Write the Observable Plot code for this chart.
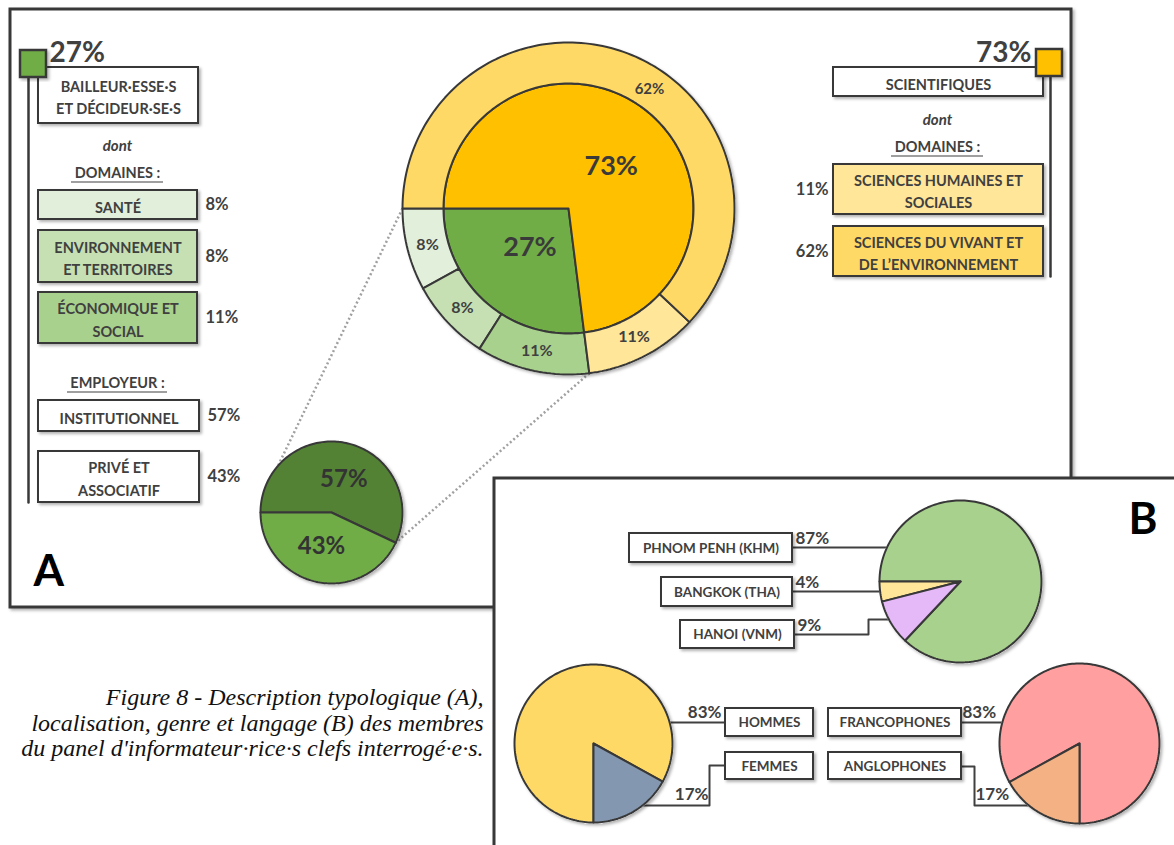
<!DOCTYPE html>
<html><head><meta charset="utf-8">
<script src="https://cdn.jsdelivr.net/npm/d3@7"></script>
<script src="https://cdn.jsdelivr.net/npm/@observablehq/plot@0.6"></script>
<style>html,body{margin:0;padding:0;background:#fff;overflow:hidden}svg{display:block}</style>
</head><body><div id="chart"></div>
<script>
// ---------------- DATA ----------------
const typeLabels = ["SCIENTIFIQUES", "BAILLEUR·ESSE·S\nET DÉCIDEUR·SE·S"];
const typeValues = [73, 27];
const sciDomainLabels = ["SCIENCES HUMAINES ET\nSOCIALES", "SCIENCES DU VIVANT ET\nDE L’ENVIRONNEMENT"];
const sciDomainValues = [11, 62];
const bdDomainLabels = ["SANTÉ", "ENVIRONNEMENT\nET TERRITOIRES", "ÉCONOMIQUE ET\nSOCIAL"];
const bdDomainValues = [8, 8, 11];
const employerLabels = ["INSTITUTIONNEL", "PRIVÉ ET\nASSOCIATIF"];
const employerValues = [57, 43];
const cityLabels = ["PHNOM PENH (KHM)", "BANGKOK (THA)", "HANOI (VNM)"];
const cityValues = [87, 4, 9];
const genderLabels = ["HOMMES", "FEMMES"];
const genderValues = [83, 17];
const languageLabels = ["FRANCOPHONES", "ANGLOPHONES"];
const languageValues = [83, 17];
const captionText = "Figure 8 - Description typologique (A),\nlocalisation, genre et langage (B) des membres\ndu panel d'informateur·rice·s clefs interrogé·e·s.";

// ---------------- STYLE / LAYOUT ----------------
const W = 1174, H = 845;
const INK = "#404040", EDGE = "#383838";
const FONT = "Lato, 'Open Sans', sans-serif";
const SERIF = "'Liberation Serif', 'DejaVu Serif', serif";
const typeColors = ["#FFC000", "#70AD47"];
const sciDomainColors = ["#FFE699", "#FFD966"];
const bdDomainColors = ["#E2EFDA", "#C6E0B4", "#A9D18E"];
const employerColors = ["#548235", "#70AD47"];
const cityColors = ["#A9D18E", "#FFE699", "#E5B9F7"];
const genderColors = ["#FFD966", "#8497B0"];
const languageColors = ["#FF9F9F", "#F4B183"];

const DONUT = {cx: 568, cy: 208, r0: 125, r1: 166};
const SMALL = {cx: 331, cy: 512, r: 71};
const CITY = {cx: 960, cy: 581, r: 81};
const GENDER = {cx: 593, cy: 743, r: 79};
const LANG = {cx: 1079, cy: 743, r: 80};

// ---------------- GEOMETRY HELPERS ----------------
const rad = a => a * Math.PI / 180;
function pt(cx, cy, r, a) { return [cx + r * Math.sin(rad(a)), cy - r * Math.cos(rad(a))]; }
function arcPts(cx, cy, r, a0, a1) {
  const n = Math.max(2, Math.ceil(Math.abs(a1 - a0) / 1.5));
  return d3.range(n + 1).map(i => pt(cx, cy, r, a0 + (a1 - a0) * i / n));
}
function stackAngles(values, anchor, dir) {
  let a = anchor;
  return values.map(v => { const s = a; a += dir * v * 3.6; return dir > 0 ? [s, a] : [a, s]; });
}
function slicePoly(cx, cy, r0, r1, a0, a1) {
  return r0 > 0 ? [...arcPts(cx, cy, r1, a0, a1), ...arcPts(cx, cy, r0, a1, a0)]
                : [[cx, cy], ...arcPts(cx, cy, r1, a0, a1)];
}
function sliceMark(poly, fill) {
  return Plot.line(poly, {x: d => d[0], y: d => d[1], fill, stroke: EDGE, strokeWidth: 2, curve: "linear-closed", strokeLinejoin: "round"});
}
const pct = v => `${v}%`;

// angles
const innerAng = stackAngles([typeValues[1], typeValues[0]], 270, -1); // [bd, sci]
const bdAng = stackAngles(bdDomainValues, 270, -1);
const sciAng = stackAngles(sciDomainValues, innerAng[0][0], -1);
const empAng = stackAngles(employerValues, 270, 1);
const cityAngRev = stackAngles([cityValues[1], cityValues[2], cityValues[0]], 270, -1);
const cityAng = [cityAngRev[2], cityAngRev[0], cityAngRev[1]];
const genAngRev = stackAngles([genderValues[1], genderValues[0]], 180, -1);
const genAng = [genAngRev[1], genAngRev[0]];
const langAngRev = stackAngles([languageValues[1], languageValues[0]], 180, 1);
const langAng = [langAngRev[1], langAngRev[0]];

const marks = [];
const shadow = {ariaDescription: "shadow"};

// ---------------- PANEL A ----------------
marks.push(Plot.rect([{x1: 10, x2: 1071, y1: 9, y2: 607}], {x1: "x1", x2: "x2", y1: "y1", y2: "y2", fill: "white", stroke: EDGE, strokeWidth: 3, ...shadow}));

// left legend
const leftBoxes = [
  {x1: 38, x2: 198, y1: 67, y2: 123, fill: "white", label: typeLabels[1]},
  ...bdDomainLabels.map((l, i) => ({x1: 38, x2: 197, y1: [190, 230, 292][i], y2: [219, 282, 343][i], fill: bdDomainColors[i], label: l, value: bdDomainValues[i]})),
  ...employerLabels.map((l, i) => ({x1: 38, x2: 199, y1: [400, 451][i], y2: [431, 502][i], fill: "white", label: l, value: employerValues[i]}))
];
const rightBoxes = [
  {x1: 833, x2: 1043, y1: 67, y2: 96, fill: "white", label: typeLabels[0]},
  ...sciDomainLabels.map((l, i) => ({x1: 833, x2: 1043, y1: [164, 226][i], y2: [214, 276][i], fill: sciDomainColors[i], label: l, value: sciDomainValues[i]}))
];
const vlines = [
  {id: "L", x: 28, y: 77}, {id: "L", x: 28, y: 502},
  {id: "R", x: 1050, y: 76}, {id: "R", x: 1050, y: 276}
];
marks.push(Plot.line(vlines, {x: "x", y: "y", z: "id", stroke: EDGE, strokeWidth: 2.5}));
marks.push(Plot.rect([...leftBoxes, ...rightBoxes], {x1: "x1", x2: "x2", y1: "y1", y2: "y2", fill: "fill", stroke: EDGE, strokeWidth: 2, ...shadow}));
marks.push(Plot.rect([{x1: 20, x2: 46, y1: 50, y2: 77, fill: typeColors[1]}, {x1: 1036, x2: 1062, y1: 49, y2: 76, fill: typeColors[0]}],
  {x1: "x1", x2: "x2", y1: "y1", y2: "y2", fill: "fill", stroke: EDGE, strokeWidth: 2.5, ...shadow}));
marks.push(Plot.text([...leftBoxes, ...rightBoxes], {x: d => (d.x1 + d.x2) / 2, y: d => (d.y1 + d.y2) / 2 + 0.5, text: "label", fill: INK, fontSize: 14.5, fontWeight: 700, fontFamily: FONT, lineHeight: 1.55}));
// percent values next to boxes
marks.push(Plot.text(leftBoxes.filter(d => d.value != null), {x: d => d.x2 + 8, y: d => (d.y1 + d.y2) / 2, text: d => pct(d.value), textAnchor: "start", fill: INK, fontSize: 16.5, fontWeight: 700, fontFamily: FONT}));
marks.push(Plot.text(rightBoxes.filter(d => d.value != null), {x: d => d.x1 - 5, y: d => (d.y1 + d.y2) / 2, text: d => pct(d.value), textAnchor: "end", fill: INK, fontSize: 16.5, fontWeight: 700, fontFamily: FONT}));
// headline percentages
marks.push(Plot.text([{x: 49, y: 53, t: pct(typeValues[1])}], {x: "x", y: "y", text: "t", textAnchor: "start", fill: INK, fontSize: 28, fontWeight: 700, fontFamily: FONT}));
marks.push(Plot.text([{x: 1031, y: 53, t: pct(typeValues[0])}], {x: "x", y: "y", text: "t", textAnchor: "end", fill: INK, fontSize: 28, fontWeight: 700, fontFamily: FONT}));
// "dont" and section titles
marks.push(Plot.text([{x: 117, y: 146}, {x: 937, y: 120}], {x: "x", y: "y", text: () => "dont", fill: INK, fontSize: 15, fontWeight: 700, fontStyle: "italic", fontFamily: FONT}));
const headers = [
  {x: 117, y: 173, t: "DOMAINES :", u1: 71, u2: 163},
  {x: 117, y: 383, t: "EMPLOYEUR :", u1: 67, u2: 167},
  {x: 937, y: 147, t: "DOMAINES :", u1: 891, u2: 983}
];
marks.push(Plot.text(headers, {x: "x", y: "y", text: "t", fill: INK, fontSize: 14.5, fontWeight: 700, fontFamily: FONT}));
marks.push(Plot.ruleY(headers, {y: d => d.y + 8.5, x1: "u1", x2: "u2", stroke: INK, strokeWidth: 1.2}));

// dotted connectors
const conn = [
  {id: 0, p: pt(DONUT.cx, DONUT.cy, DONUT.r1, innerAng[0][1])}, {id: 0, p: pt(SMALL.cx, SMALL.cy, SMALL.r, 311)},
  {id: 1, p: pt(DONUT.cx, DONUT.cy, DONUT.r1, innerAng[0][0])}, {id: 1, p: pt(SMALL.cx, SMALL.cy, SMALL.r, empAng[0][1])}
];
marks.push(Plot.line(conn, {x: d => d.p[0], y: d => d.p[1], z: "id", stroke: "#A0A0A0", strokeWidth: 2.5, strokeDasharray: "2,2.5", strokeLinecap: "butt"}));

// donut
marks.push(Plot.dot([DONUT], {x: "cx", y: "cy", r: DONUT.r1 + 1, fill: "white", ...shadow}));
innerAng.forEach(([a0, a1], i) => marks.push(sliceMark(slicePoly(DONUT.cx, DONUT.cy, 0, DONUT.r0, a0, a1), [typeColors[1], typeColors[0]][i])));
bdAng.forEach(([a0, a1], i) => marks.push(sliceMark(slicePoly(DONUT.cx, DONUT.cy, DONUT.r0, DONUT.r1, a0, a1), bdDomainColors[i])));
sciAng.forEach(([a0, a1], i) => marks.push(sliceMark(slicePoly(DONUT.cx, DONUT.cy, DONUT.r0, DONUT.r1, a0, a1), sciDomainColors[i])));
const rMid = (DONUT.r0 + DONUT.r1) / 2;
const outerLabels = [
  ...bdAng.map(([a0, a1], i) => ({p: pt(DONUT.cx, DONUT.cy, rMid, (a0 + a1) / 2), t: pct(bdDomainValues[i]), s: 16})),
  ...sciAng.map(([a0, a1], i) => ({p: pt(DONUT.cx, DONUT.cy, rMid - 1, (a0 + a1) / 2 + (i === 1 ? 12.5 : 0)), t: pct(sciDomainValues[i]), s: i === 1 ? 15 : 16}))
];
const innerLabels = [
  {p: pt(DONUT.cx, DONUT.cy, 55, (innerAng[0][0] + innerAng[0][1]) / 2 + 3), t: pct(typeValues[1])},
  {p: pt(DONUT.cx, DONUT.cy, 60, (innerAng[1][0] + innerAng[1][1]) / 2 + 4), t: pct(typeValues[0])}
];
marks.push(Plot.text(outerLabels, {x: d => d.p[0], y: d => d.p[1], text: "t", fontSize: d => d.s, fill: INK, fontWeight: 700, fontFamily: FONT}));
marks.push(Plot.text(innerLabels, {x: d => d.p[0], y: d => d.p[1], text: "t", fontSize: 27, fill: "#3a3a3a", fontWeight: 700, fontFamily: FONT}));

// small employer pie
marks.push(Plot.dot([SMALL], {x: "cx", y: "cy", r: SMALL.r + 1, fill: "white", ...shadow}));
empAng.forEach(([a0, a1], i) => marks.push(sliceMark(slicePoly(SMALL.cx, SMALL.cy, 0, SMALL.r, a0, a1), employerColors[i])));
marks.push(Plot.text(empAng.map(([a0, a1], i) => ({p: pt(SMALL.cx, SMALL.cy, 35, (a0 + a1) / 2 + (i === 0 ? 8 : 4)), t: pct(employerValues[i])})),
  {x: d => d.p[0], y: d => d.p[1], text: "t", fontSize: 24, fill: "#333", fontWeight: 700, fontFamily: FONT}));

// panel letter A
marks.push(Plot.text([{x: 33, y: 571, t: "A"}], {x: "x", y: "y", text: "t", textAnchor: "start", fontSize: 44, fontWeight: 700, fill: "#000", fontFamily: FONT}));

// ---------------- PANEL B ----------------
marks.push(Plot.rect([{x1: 494, x2: 1185, y1: 478, y2: 860}], {x1: "x1", x2: "x2", y1: "y1", y2: "y2", fill: "white", stroke: EDGE, strokeWidth: 3, ...shadow}));
marks.push(Plot.text([{x: 1157, y: 519, t: "B"}], {x: "x", y: "y", text: "t", textAnchor: "end", fontSize: 44, fontWeight: 700, fill: "#000", fontFamily: FONT}));

const edgeX = (P, y, side) => P.cx + side * Math.sqrt(P.r * P.r - (y - P.cy) ** 2);

const bBoxes = [
  {x1: 629, x2: 792, y1: 533, y2: 562, label: cityLabels[0]},
  {x1: 661, x2: 792, y1: 577, y2: 606, label: cityLabels[1]},
  {x1: 680, x2: 794, y1: 620, y2: 648, label: cityLabels[2]},
  {x1: 725, x2: 813, y1: 708, y2: 736, label: genderLabels[0]},
  {x1: 725, x2: 813, y1: 752, y2: 779, label: genderLabels[1]},
  {x1: 828, x2: 961, y1: 708, y2: 736, label: languageLabels[0]},
  {x1: 828, x2: 961, y1: 752, y2: 779, label: languageLabels[1]}
];
const leaders = [
  {id: "pp", pts: [[792, 547], [edgeX(CITY, 547, -1), 547]]},
  {id: "bk", pts: [[792, 591], [edgeX(CITY, 591, -1), 591]]},
  {id: "hn", pts: [[794, 634], [868, 634], [868, 619], [edgeX(CITY, 619, -1), 619]]},
  {id: "ho", pts: [[725, 722], [edgeX(GENDER, 722, 1), 722]]},
  {id: "fe", pts: [[725, 765], [709, 765], [709, 805], [edgeX(GENDER, 805, 1) - 2, 805]]},
  {id: "fr", pts: [[961, 722], [edgeX(LANG, 722, -1), 722]]},
  {id: "an", pts: [[961, 766], [974, 766], [974, 805], [edgeX(LANG, 805, -1) + 2, 805]]}
].flatMap(d => d.pts.map(p => ({id: d.id, x: p[0], y: p[1]})));
marks.push(Plot.line(leaders, {x: "x", y: "y", z: "id", stroke: INK, strokeWidth: 2}));

// pies
[[CITY, cityAng, cityColors], [GENDER, genAng, genderColors], [LANG, langAng, languageColors]].forEach(([P, angs, cols]) => {
  marks.push(Plot.dot([P], {x: "cx", y: "cy", r: P.r + 1, fill: "white", ...shadow}));
  angs.forEach(([a0, a1], i) => marks.push(sliceMark(slicePoly(P.cx, P.cy, 0, P.r, a0, a1), cols[i])));
});

marks.push(Plot.rect(bBoxes, {x1: "x1", x2: "x2", y1: "y1", y2: "y2", fill: "white", stroke: EDGE, strokeWidth: 2, ...shadow}));
marks.push(Plot.text(bBoxes, {x: d => (d.x1 + d.x2) / 2, y: d => (d.y1 + d.y2) / 2 + 0.5, text: "label", fill: INK, fontSize: 13.5, fontWeight: 700, fontFamily: FONT}));
const bPctsStart = [
  {x: 795, y: 538, t: pct(cityValues[0])},
  {x: 795, y: 582, t: pct(cityValues[1])},
  {x: 797, y: 625, t: pct(cityValues[2])},
  {x: 962, y: 712, t: pct(languageValues[0])},
  {x: 975, y: 794, t: pct(languageValues[1])}
];
const bPctsEnd = [
  {x: 721, y: 712, t: pct(genderValues[0])},
  {x: 708, y: 794, t: pct(genderValues[1])}
];
marks.push(Plot.text(bPctsStart, {x: "x", y: "y", text: "t", textAnchor: "start", fill: INK, fontSize: 17, fontWeight: 700, fontFamily: FONT}));
marks.push(Plot.text(bPctsEnd, {x: "x", y: "y", text: "t", textAnchor: "end", fill: INK, fontSize: 17, fontWeight: 700, fontFamily: FONT}));

// caption
marks.push(Plot.text([{x: 483, y: 722, t: captionText}], {x: "x", y: "y", text: "t", textAnchor: "end", fill: "#111", fontSize: 24, fontStyle: "italic", fontFamily: SERIF, lineHeight: 1.06}));

const chart = Plot.plot({
  width: W, height: H, margin: 0,
  x: {domain: [0, W], range: [0, W]},
  y: {domain: [0, H], range: [0, H]},
  color: {type: "identity"},
  axis: null,
  style: {background: "white", overflow: "hidden"},
  marks
});
const svg = d3.select(chart);
const f = svg.insert("defs", ":first-child").append("filter").attr("id", "sh").attr("x", "-10%").attr("y", "-10%").attr("width", "125%").attr("height", "125%");
f.append("feDropShadow").attr("dx", 2).attr("dy", 2).attr("stdDeviation", 1.6).attr("flood-color", "#000").attr("flood-opacity", 0.3);
svg.selectAll('[aria-description="shadow"]').attr("filter", "url(#sh)");
document.getElementById("chart").appendChild(chart);
</script>
</body></html>
